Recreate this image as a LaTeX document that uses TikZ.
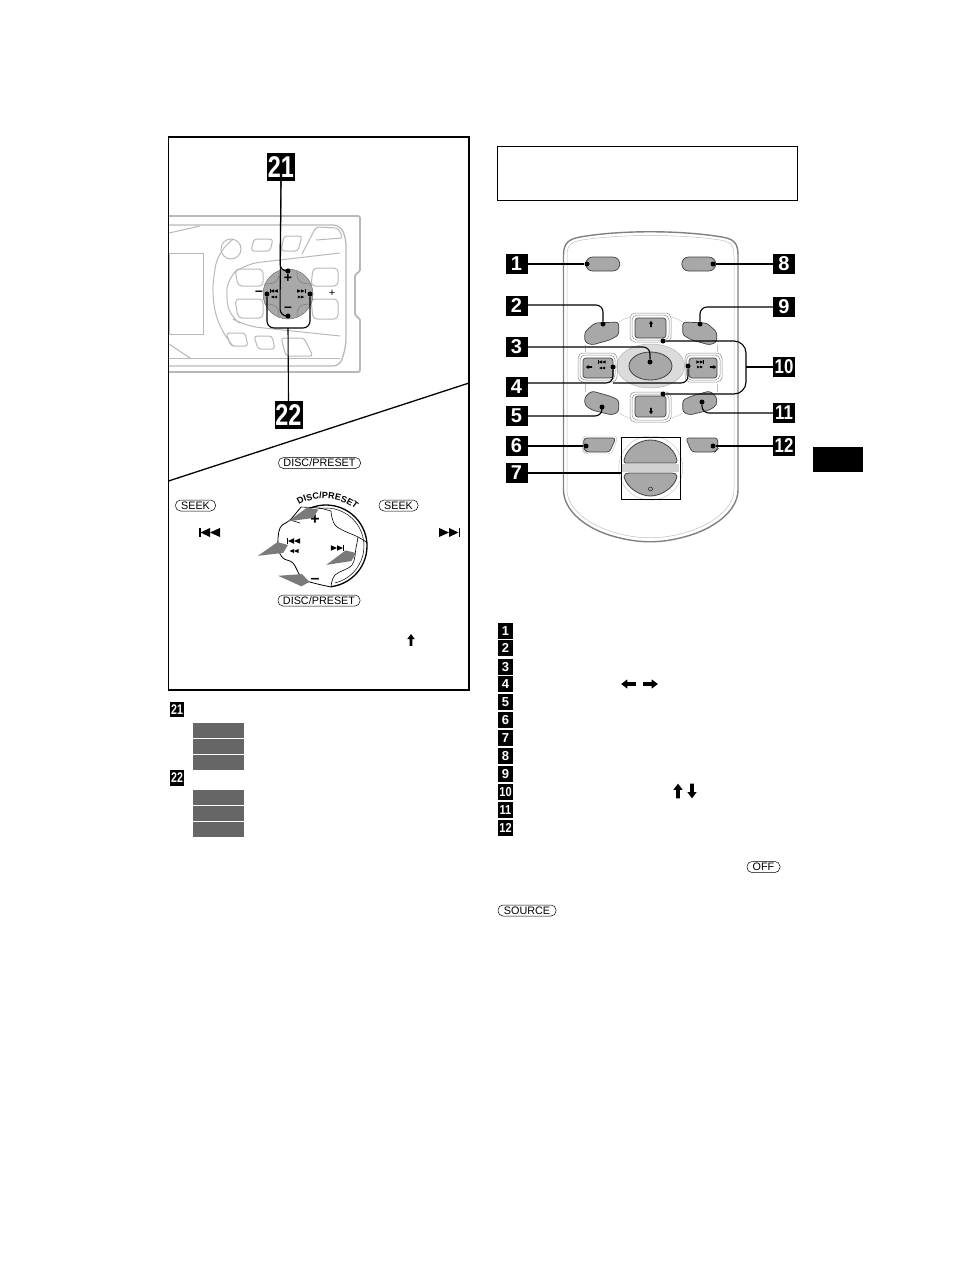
\documentclass[tikz,border=0pt]{standalone}
\usepackage{fontspec}
\usepackage{graphicx}
\setmainfont{Liberation Sans}
\usetikzlibrary{decorations.text}
\definecolor{devgray}{gray}{0.72}
\definecolor{keygray}{gray}{0.66}
\definecolor{arrowgray}{gray}{0.48}
\definecolor{rowgray}{gray}{0.40}
\tikzset{
    prevmark/.pic={
        \fill (-11,-4.5) rectangle (-9.5,4.5);
        \fill (-9.5,0) -- (0,-4.5) -- (0,4.5) -- cycle;
        \fill (0,0) -- (10,-4.5) -- (10,4.5) -- cycle;
    },
    backmark/.pic={
        \fill (-10,0) -- (0,-4.5) -- (0,4.5) -- cycle;
        \fill (0,0) -- (10,-4.5) -- (10,4.5) -- cycle;
    },
    fatarrow/.pic={
        \fill (0,-7) -- (4.5,-1) -- (1.7,-1) -- (1.7,7) -- (-1.7,7) -- (-1.7,-1) -- (-4.5,-1) -- cycle;
    }
}
\begin{document}
\begin{tikzpicture}[x=1pt,y=-1pt]
    \tikzstyle{badge}=[fill=black,text=white,font=\fontsize{20}{20}\selectfont\bfseries,minimum width=22pt,minimum height=20pt,inner sep=0pt]
    \tikzstyle{bigbadge}=[fill=black,text=white,font=\fontsize{30}{30}\selectfont\bfseries,minimum width=28pt,minimum height=28pt,inner sep=0pt]
    \tikzstyle{listbadge}=[fill=black,text=white,font=\fontsize{13}{13}\selectfont\bfseries,minimum width=15pt,minimum height=16pt,inner sep=0pt]
    \tikzstyle{leaddot}=[circle,fill=black,minimum size=5pt,inner sep=0pt]
    \tikzstyle{lead}=[line width=1.1pt,rounded corners=7pt]
    \tikzstyle{pill}=[draw=black,line width=0.5pt,rounded corners=5pt,minimum height=11pt,inner sep=0pt,font=\fontsize{10.8}{10.8}\selectfont]
    \tikzstyle{dev}=[draw=devgray,line width=1pt]
    \tikzstyle{key}=[draw=black!75,fill=keygray,line width=0.7pt,rounded corners=3pt]
    \tikzstyle{ring}=[draw=black!45,line width=0.5pt,rounded corners=5pt]
    \tikzstyle{signtext}=[font=\fontsize{14}{14}\selectfont\bfseries,inner sep=0pt]
    \useasboundingbox (0,0) rectangle (954,1270);

    % frames
    \draw[line width=1.3pt] (168.5,137) rectangle (469,690);
    \draw[line width=0.8pt] (497.5,146) rectangle (797.5,200);
    \draw[line width=1.3pt] (168.5,481) -- (469,383);
    \node[fill=black,minimum width=50pt,minimum height=25pt,inner sep=0pt] (tab) at (838,459.5) {};

    % front panel
    \draw[draw=devgray,line width=1.8pt,rounded corners=2pt] (169,216) -- (360,216) -- (360,272) -- (355,274) -- (355,316) -- (360,318) -- (360,372) -- (169,372);
    \draw[dev,line width=1.3pt,rounded corners=7pt] (169,225) -- (340,225) -- (346,238) -- (346,346) -- (340,366) -- (169,366);
    \draw[dev] (169,358) -- (340,358);
    \draw[dev] (169,233) -- (200,226);
    \draw[dev] (169,344) -- (190,358);
    \draw[dev] (169,253) rectangle (203,334);
    \draw[dev] (231,249) circle (10);
    \draw[dev,rounded corners=3pt] (254,239) -- (273,239) -- (270,251) -- (251,251) -- cycle;
    \draw[dev,rounded corners=3pt] (284,236) -- (302,236) -- (298,251) -- (281,251) -- cycle;
    \draw[dev,rounded corners=3pt] (226,333) -- (245,333) -- (248,346) -- (231,346) -- cycle;
    \draw[dev,rounded corners=3pt] (254,336) -- (272,336) -- (275,349) -- (258,349) -- cycle;
    \draw[dev,rounded corners=3pt] (281,338) -- (304,338) -- (313,356) -- (286,356) -- cycle;
    \draw[dev,rounded corners=3pt] (302,254) -- (316,227) -- (338,228) -- (343,238) -- (316,240);
    \draw[dev,rounded corners=14pt] (340,253) -- (245,264) -- (226,279) -- (228,316) -- (245,326) -- (340,336);
    \draw[dev,rounded corners=18pt] (232,240) -- (218,249) -- (211,296) -- (221,333) -- (233,346);
    \draw[dev,rounded corners=4pt] (235,269) -- (263,269) -- (263,286) -- (238,286) -- cycle;
    \draw[dev,rounded corners=4pt] (235,299) -- (263,299) -- (263,318) -- (238,318) -- cycle;
    \draw[dev,rounded corners=4pt] (313,268) -- (338,268) -- (338,286) -- (311,286) -- cycle;
    \draw[dev,rounded corners=4pt] (311,299) -- (338,299) -- (338,319) -- (313,319) -- cycle;
    \draw[draw=black!55,fill=keygray,line width=0.5pt] (288,294) circle (25);
    \foreach \sx/\sy in {1/1, 1/-1, -1/1, -1/-1}
        \draw[black!50,line width=0.6pt] (288+\sx*23,294+\sy*10) .. controls (288+\sx*12,294+\sy*10) and (288+\sx*9,294+\sy*13) .. (288+\sx*9,294+\sy*22);

    \foreach \name/\txt/\x/\y in {a/+/288/278, b/\textendash/288/309, c/\textendash/259/293}
        \node[signtext] (dev-\name) at (\x,\y) {\txt};
    \node[font=\fontsize{11}{11}\selectfont,inner sep=0pt] (dev-d) at (332,293) {+};
    \pic[scale=0.38] at (274,291) {prevmark};
    \pic[scale=0.32] at (274,297) {backmark};
    \pic[scale=0.38,xscale=-1] at (301,291) {prevmark};
    \pic[scale=0.32,xscale=-1] at (301,297) {backmark};

    % keys on the panel
    \node[bigbadge] (B-21) at (281,167) {\scalebox{.78}[1]{21}};
    \node[bigbadge] (B-22) at (288.5,415) {\scalebox{.78}[1]{22}};
    \foreach \num/\x/\y in {a/288/271, b/288/316, c/267/294, d/310/294}
        \node[leaddot] (K-\num) at (\x,\y) {};
    \draw[lead] (B-21.south) -- (280,271) -- (K-a);
    \draw[lead] (B-21.south) -- (280,316) -- (K-b);
    \draw[lead] (K-c) -- (267,328) -- (310,328) -- (K-d);
    \draw[lead] (B-22.north) -- (288,328);

    % knob
    \draw[line width=1.3pt] (326,546) ++(-123:41) arc[start angle=-123,end angle=83,radius=41];
    \draw[line width=0.5pt] (326,546) ++(-112:38) arc[start angle=-112,end angle=76,radius=38];
    \draw[line width=0.8pt] plot[smooth,tension=0.6] coordinates {(301,507) (290,520) (280,528) (278,547) (283,558) (293,563) (301,577) (310,582) (331,587)};
    \draw[line width=0.6pt] plot[smooth,tension=0.6] coordinates {(331,511) (336,526) (358,537) (366,542)};
    \draw[line width=0.6pt] plot[smooth,tension=0.6] coordinates {(331,587) (335,575) (352,565) (356,548) (358,537)};
    \draw[line width=0.6pt] (301,507) -- (320,508) -- (331,511);
    \draw[line width=0.6pt] (290,520) -- (300,523);
    \path[decorate,decoration={text along path,text align=fit to path,text={|\fontsize{9}{9}\selectfont\bfseries|DISC/PRESET}}] (299,505) .. controls (312,496) and (340,496) .. (355,509);
    \node[signtext,font=\fontsize{16}{16}\selectfont\bfseries] (knob-a) at (315,520) {+};
    \node[signtext,font=\fontsize{16}{16}\selectfont\bfseries] (knob-b) at (315,581) {\textendash};
    \pic[scale=0.62] at (294,541) {prevmark};
    \pic[scale=0.45] at (294,551) {backmark};
    \pic[scale=0.62,xscale=-1] at (337,548) {prevmark};
    \foreach \x/\y/\a in {318/510/19, 288/545/18, 309.5/582/-13, 356/553/20}
        \fill[arrowgray,shift={(\x,\y)},rotate=\a] (-32,1) -- (-9,-6) -- (0,0) -- (-7,6) -- cycle;

    % labels of the left part
    \node[pill,minimum width=82pt] (P-a) at (319.5,463) {DISC/PRESET};
    \node[pill,minimum width=82pt] (P-b) at (319,600.5) {DISC/PRESET};
    \node[pill,minimum width=40pt] (P-c) at (195.5,505.5) {SEEK};
    \node[pill,minimum width=39pt] (P-d) at (398.5,505.5) {SEEK};
    \pic at (210,532.5) {prevmark};
    \pic[xscale=-1] at (449,532.5) {prevmark};
    \pic[scale=0.85] at (411,640) {fatarrow};

    % rows of the left list
    \node[listbadge,font=\fontsize{14}{14}\selectfont\bfseries,minimum width=14pt,minimum height=15pt] (S-21) at (177,709.5) {\scalebox{.76}[1]{21}};
    \node[listbadge,font=\fontsize{14}{14}\selectfont\bfseries,minimum width=14pt,minimum height=16pt] (S-22) at (177,777.5) {\scalebox{.76}[1]{22}};
    \foreach \y in {723, 739, 755, 790, 806, 822}
        \fill[rowgray] (193,\y) rectangle (244,\y+15);

    % remote
    \draw[draw=black!50,line width=1.4pt] (563.5,255) .. controls (563.5,242) and (570,239) .. (580,237) .. controls (620,230) and (680,230) .. (722,237) .. controls (733,239) and (738,242) .. (738,255) -- (738,490) .. controls (738,510) and (715,530) .. (680,538) .. controls (660,543) and (640,543) .. (620,538) .. controls (585,530) and (563.5,510) .. (563.5,490) -- cycle;
    \draw[draw=black!25,line width=0.5pt] (567,256) .. controls (567,244) and (572,242) .. (582,240) .. controls (620,234) and (680,234) .. (720,240) .. controls (730,242) and (734,244) .. (734,256) -- (734,490) .. controls (734,508) and (712,526) .. (680,534) .. controls (660,539) and (640,539) .. (620,534) .. controls (588,526) and (567,508) .. (567,490) -- cycle;
    % both halves are the same
    \foreach \sx in {1,-1}
    {
        \begin{scope}[shift={(650.75,0)},xscale=\sx]
            \draw[key,rounded corners=7pt] (-65,257) rectangle (-31,271);
            \draw[key] (-66,332) -- (-56,323) -- (-32,322) -- (-32,335) -- (-41,340) -- (-59,345) -- (-66,342) -- cycle;
            \draw[key] (-66,397) -- (-59,391) -- (-41,396) -- (-32,400) -- (-32,412) -- (-39,415) -- (-59,410) -- (-66,405) -- cycle;
            \draw[key] (-67,438) -- (-35,438) -- (-41,452) -- (-64,452) -- (-67,449) -- cycle;
            \draw[draw=black!25,line width=0.4pt] (-32,322) .. controls (-27,319) and (-24,318) .. (-21,317);
            \draw[draw=black!25,line width=0.4pt] (-66,352) -- (-66,345);
            \draw[draw=black!25,line width=0.4pt] (-66,384) -- (-66,392);
            \draw[draw=black!25,line width=0.4pt] (-32,413) .. controls (-27,416) and (-24,417) .. (-21,418);
        \end{scope}
    }
    \draw[draw=black!25,line width=0.4pt,rounded corners=4pt] (582.5,436) -- (618,436) -- (612,454) -- (585,454) -- (582.5,450) -- cycle;
    \draw[draw=black!30,fill=black!14,line width=0.5pt] (650.75,366) ellipse (34 and 22);
    \draw[draw=black!25,line width=0.4pt] (650.75,468) circle (32);
    % arrow keys
    \draw[ring] (630,313) rectangle (671,342);
    \draw[ring] (632,315) rectangle (669,340);
    \draw[key] (635,318) rectangle (666,338);
    \draw[ring] (630,392) rectangle (671,422);
    \draw[ring] (632,394) rectangle (669,420);
    \draw[key] (635,396) rectangle (666,417);
    \draw[ring] (578,353) rectangle (617,382);
    \draw[ring] (580,355) rectangle (615,380);
    \draw[key] (583,358) rectangle (613,378);
    \draw[ring] (685,353) rectangle (722,382);
    \draw[ring] (686.5,355) rectangle (720,380);
    \draw[key] (689,358) rectangle (717,378);
    \draw[draw=black!75,fill=keygray,line width=0.8pt] (650.5,366) ellipse (21.5 and 14);
    \fill[black!18] (622,464) rectangle (679,472);
    \draw[draw=black!75,fill=keygray,line width=0.8pt] (624,460) .. controls (627,447) and (640,440) .. (650.5,440) .. controls (661,440) and (674,447) .. (677,460) .. controls (677,464) and (675,463) .. (672,463) -- (629,463) .. controls (626,463) and (624,464) .. (624,460) -- cycle;
    \draw[draw=black!75,fill=keygray,line width=0.8pt] (624,477) .. controls (624,474) and (626,473) .. (629,473) -- (672,473) .. controls (675,473) and (677,474) .. (677,477) .. controls (674,488) and (661,496) .. (650.5,496) .. controls (640,496) and (627,488) .. (624,477) -- cycle;
    \draw[line width=0.4pt] (650.5,489) circle (2);
    \draw[line width=1pt] (621,437) rectangle (680,499);
    \pic[scale=0.45] at (651,324) {fatarrow};
    \pic[scale=0.45,rotate=180] at (651,411) {fatarrow};
    \pic[scale=0.45,rotate=90] at (589,367) {fatarrow};
    \pic[scale=0.45,rotate=-90] at (713,367) {fatarrow};
    \pic[scale=0.36] at (602,362) {prevmark};
    \pic[scale=0.3] at (602,368) {backmark};
    \pic[scale=0.36,xscale=-1] at (700,362) {prevmark};
    \pic[scale=0.3,xscale=-1] at (700,367) {backmark};

    % numbers round the remote
    \foreach \num/\x/\y in {1/516.5/264, 2/516.5/306, 3/516.5/347, 4/516.5/387, 5/516.5/416, 6/516.5/446, 7/516.5/473, 8/784/264, 9/784/307}
        \node[badge] (B-\num) at (\x,\y) {\num};
    \foreach \num/\y in {10/367, 11/413, 12/446}
        \node[badge] (B-\num) at (784,\y) {\scalebox{.84}[1]{\num}};
    \foreach \num/\x/\y in {1/587/264, 2/603/324, 3/650/362, 4/613/367, 4b/688/366, 5/602/407, 6/586/446, 8/713/264, 9/700/324, 10/663/341, 10b/663/394, 11/702/402, 12/713/446}
        \node[leaddot] (D-\num) at (\x,\y) {};
    \coordinate (D-7) at (621,473);

    \foreach \from/\to in {1/1, 6/6, 7/7, 8/8, 12/12}
        \draw[lead] (B-\from) -- (D-\to);
    \draw[lead] (B-2.east) ++(0,-1) -- (603,305) -- (D-2);
    \draw[lead] (B-9.west) -- (700,307) -- (D-9);
    \draw[lead] (B-3.east) -- (650,347) -- (D-3);
    \draw[lead] (B-4.east) ++(0,-4) -- (613,383) -- (D-4);
    \draw[lead] (613,383) -- (688,383) -- (D-4b);
    \draw[lead] (B-5.east) -- (602,416) -- (D-5);
    \draw[lead] (B-11.west) -- (702,413) -- (D-11);
    \draw[lead] (B-10.west) -- (746,367);
    \draw[lead,rounded corners=12pt] (D-10) -- (746,341) -- (746,394) -- (D-10b);

    % list of the remote
    \foreach \num/\y in {1/631, 2/648, 3/667, 4/684, 5/702, 6/720, 7/738, 8/756, 9/774}
        \node[listbadge] (L-\num) at (505.5,\y) {\num};
    \foreach \num/\y in {10/792, 11/810, 12/828}
        \node[listbadge] (L-\num) at (505.5,\y) {\scalebox{.85}[1]{\num}};
    \pic[scale=1.05,rotate=90] at (628.5,684) {fatarrow};
    \pic[scale=1.05,rotate=-90] at (650.5,684) {fatarrow};
    \pic[scale=1.05] at (678,791) {fatarrow};
    \pic[scale=1.05,rotate=180] at (692,791) {fatarrow};
    \node[pill,minimum width=33pt] (P-off) at (763.5,867) {OFF};
    \node[pill,minimum width=58pt] (P-source) at (527,910.5) {SOURCE};
\end{tikzpicture}
\end{document}
